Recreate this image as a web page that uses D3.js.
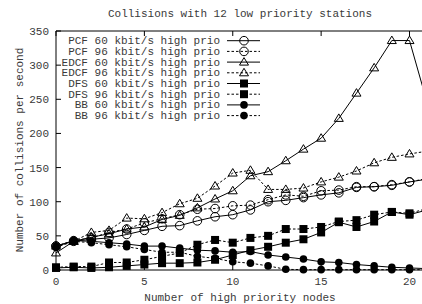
<!DOCTYPE html>
<html>
<head>
<meta charset="utf-8">
<script src="https://cdn.jsdelivr.net/npm/d3@7"></script>
<style>
  html, body { margin: 0; padding: 0; background: #fff; }
  svg text { font-family: "Liberation Mono", "DejaVu Sans Mono", monospace; font-size: 11px; fill: #3a3a3a; }
</style>
</head>
<body>
<svg id="chart" width="422" height="304"></svg>
<script>
const nodes = d3.range(0, 22); // 0..21, last one is cut off at the right edge
const yTicks = [0, 50, 100, 150, 200, 250, 300, 350];
const xTicks = [0, 5, 10, 15, 20];

const pcf60  = [35, 42, 45, 47, 52, 58, 64, 65, 72, 78, 81, 88, 100, 102, 106, 110, 113, 121, 122, 124, 129, 133];
const pcf96  = [35, 43, 47, 55, 60, 69, 75, 81, 89, 90, 94, 95, 103, 110, 108, 116, 117, 122, 122, 125, 129, 134];
const edcf60 = [25, 42, 48, 53, 60, 63, 74, 80, 91, 104, 116, 138, 144, 160, 177, 193, 222, 259, 296, 336, 336, 245];
const edcf96 = [35, 42, 55, 58, 76, 75, 84, 97, 105, 123, 142, 146, 118, 118, 120, 129, 136, 145, 157, 165, 170, 174];
const dfs60  = [3, 4, 3, 4, 6, 8, 10, 10, 11, 15, 22, 29, 34, 40, 45, 55, 70, 63, 71, 85, 81, 88];
const dfs96  = [4, 5, 5, 11, 11, 15, 20, 25, 37, 44, 40, 47, 50, 60, 60, 63, 71, 73, 81, 85, 83, 90];
const bb60   = [35, 43, 42, 40, 38, 35, 35, 32, 29, 28, 26, 27, 22, 19, 16, 12, 11, 8, 6, 4, 3, 2];
const bb96   = [33, 42, 40, 37, 34, 30, 26, 26, 20, 17, 12, 10, 6, 1, 0.5, 0.5, 0.5, 0.5, 0.5, 0.5, 0.5, 0.5];

const seriesNames = ["PCF 60 kbit/s high prio", "PCF 96 kbit/s high prio",
  "EDCF 60 kbit/s high prio", "EDCF 96 kbit/s high prio",
  "DFS 60 kbit/s high prio", "DFS 96 kbit/s high prio",
  "BB 60 kbit/s high prio", "BB 96 kbit/s high prio"];
const seriesValues = [pcf60, pcf96, edcf60, edcf96, dfs60, dfs96, bb60, bb96];
const seriesMarks = ["ocircle", "ocircle", "otri", "otri", "fsquare", "fsquare", "fcircle", "fcircle"];
const seriesDashed = [false, true, false, true, false, true, false, true];

const svg = d3.select("#chart");

const x = d3.scaleLinear().domain([0, 20]).range([56, 409.5]);
const y = d3.scaleLinear().domain([0, 350]).range([270, 31]);

// draw a marker of the given kind centred on (cx, cy)
function drawMark(g, kind, cx, cy) {
  if (kind === "ocircle") {
    g.append("circle").attr("cx", cx).attr("cy", cy).attr("r", 4.3)
      .attr("fill", "none").attr("stroke", "#000").attr("stroke-width", 1);
  } else if (kind === "fcircle") {
    g.append("circle").attr("cx", cx).attr("cy", cy).attr("r", 3.8).attr("fill", "#000");
  } else if (kind === "fsquare") {
    g.append("rect").attr("x", cx - 4).attr("y", cy - 4).attr("width", 8).attr("height", 8).attr("fill", "#000");
  } else {
    g.append("path").attr("d", `M${cx - 4.5},${cy + 3} L${cx},${cy - 4.5} L${cx + 4.5},${cy + 3} Z`)
      .attr("fill", "none").attr("stroke", "#000").attr("stroke-width", 1);
  }
}

// frame (right side is cut off by the window)
svg.append("line").attr("x1", 56).attr("x2", 422).attr("y1", y(350)).attr("y2", y(350)).attr("stroke", "#000");
svg.append("line").attr("x1", 56).attr("x2", 422).attr("y1", y(0)).attr("y2", y(0)).attr("stroke", "#000");
svg.append("line").attr("x1", 56).attr("x2", 56).attr("y1", y(0)).attr("y2", y(350)).attr("stroke", "#000");

// y ticks (inward) and labels
yTicks.forEach(t => {
  svg.append("line").attr("x1", 56).attr("x2", 61).attr("y1", y(t)).attr("y2", y(t)).attr("stroke", "#000");
  svg.append("text").attr("x", 49).attr("y", y(t) + 4).attr("text-anchor", "end").text(t);
});
// x ticks (inward, bottom and top) and labels
xTicks.forEach(t => {
  svg.append("line").attr("x1", x(t)).attr("x2", x(t)).attr("y1", y(0)).attr("y2", y(0) - 5).attr("stroke", "#000");
  svg.append("line").attr("x1", x(t)).attr("x2", x(t)).attr("y1", y(350)).attr("y2", y(350) + 5).attr("stroke", "#000");
  svg.append("text").attr("x", x(t)).attr("y", 285).attr("text-anchor", "middle").text(t);
});

svg.append("text").attr("x", 240).attr("y", 17).attr("text-anchor", "middle")
  .text("Collisions with 12 low priority stations");
svg.append("text").attr("x", 240).attr("y", 301).attr("text-anchor", "middle")
  .text("Number of high priority nodes");
svg.append("text").attr("transform", "translate(23,150) rotate(-90)").attr("text-anchor", "middle")
  .text("Number of collisions per second");

// series
const line = d3.line().x((d, i) => x(nodes[i])).y(d => y(d));
seriesValues.forEach((vals, s) => {
  const g = svg.append("g");
  g.append("path").attr("d", line(vals)).attr("fill", "none").attr("stroke", "#000")
    .attr("stroke-width", 1).attr("stroke-dasharray", seriesDashed[s] ? "2.5,2" : null);
  vals.forEach((v, i) => drawMark(g, seriesMarks[s], x(nodes[i]), y(v)));
});

// legend
seriesNames.forEach((name, s) => {
  const ry = 40.7 + s * 10.7;
  svg.append("text").attr("x", 220).attr("y", ry + 3.5).attr("text-anchor", "end").text(name);
  svg.append("line").attr("x1", 227).attr("x2", 260).attr("y1", ry).attr("y2", ry)
    .attr("stroke", "#000").attr("stroke-dasharray", seriesDashed[s] ? "2.5,2" : null);
  drawMark(svg.append("g"), seriesMarks[s], 244, ry);
});
</script>
</body>
</html>
